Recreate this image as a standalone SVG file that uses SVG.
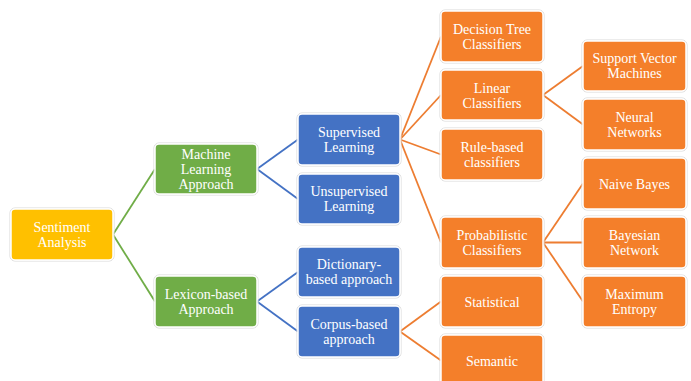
<svg xmlns="http://www.w3.org/2000/svg" width="691" height="381" viewBox="0 0 691 381">
<style>
.n rect{stroke:#ffffff;stroke-width:1.5;}
.n text{font-family:"Liberation Serif","Times New Roman",serif;font-size:14px;fill:#ffffff;text-anchor:middle;}
.y rect{fill:#FFC000;}
.g rect{fill:#70AD47;}
.b rect{fill:#4472C4;}
.o rect{fill:#F47F2A;}
.n rect.sh{fill:none;stroke:#d9d9d9;stroke-width:1;}
#connectors line{stroke-width:1.8;}
.lg{stroke:#70AD47;}
.lb{stroke:#4472C4;}
.lo{stroke:#ED7D31;}
</style>
<rect width="691" height="381" fill="#ffffff"/>
<g id="connectors">
<line class="lg" x1="113" y1="234.5" x2="155" y2="169"/>
<line class="lg" x1="113" y1="234.5" x2="155" y2="301.5"/>
<line class="lb" x1="257" y1="169" x2="298" y2="139.5"/>
<line class="lb" x1="257" y1="169" x2="298" y2="199"/>
<line class="lb" x1="257" y1="301.5" x2="298" y2="272"/>
<line class="lb" x1="257" y1="301.5" x2="298" y2="331.5"/>
<line class="lo" x1="400" y1="139.5" x2="441" y2="36.5"/>
<line class="lo" x1="400" y1="139.5" x2="441" y2="95"/>
<line class="lo" x1="400" y1="139.5" x2="441" y2="154.5"/>
<line class="lo" x1="400" y1="139.5" x2="441" y2="242.5"/>
<line class="lo" x1="543" y1="95" x2="583" y2="66"/>
<line class="lo" x1="543" y1="95" x2="583" y2="124.5"/>
<line class="lo" x1="543" y1="242.5" x2="583" y2="183.5"/>
<line class="lo" x1="543" y1="242.5" x2="583" y2="242.5"/>
<line class="lo" x1="543" y1="242.5" x2="583" y2="301.5"/>
<line class="lo" x1="400" y1="331.5" x2="441" y2="301.5"/>
<line class="lo" x1="400" y1="331.5" x2="441" y2="360.5"/>
</g>
<g id="sentiment" class="n y"><rect class="sh" x="10" y="208" width="104" height="53" rx="5"/><rect x="11" y="209" width="102" height="51" rx="4"/><text x="62" y="232">Sentiment</text><text x="62" y="247">Analysis</text></g>
<g id="ml" class="n g"><rect class="sh" x="154" y="143" width="104" height="52" rx="5"/><rect x="155" y="144" width="102" height="50" rx="4"/><text x="206" y="159">Machine</text><text x="206" y="174">Learning</text><text x="206" y="189">Approach</text></g>
<g id="lexicon" class="n g"><rect class="sh" x="154" y="275" width="104" height="53" rx="5"/><rect x="155" y="276" width="102" height="51" rx="4"/><text x="206" y="299">Lexicon-based</text><text x="206" y="314">Approach</text></g>
<g id="supervised" class="n b"><rect class="sh" x="297" y="113" width="104" height="53" rx="5"/><rect x="298" y="114" width="102" height="51" rx="4"/><text x="349" y="137">Supervised</text><text x="349" y="152">Learning</text></g>
<g id="unsupervised" class="n b"><rect class="sh" x="297" y="173" width="104" height="52" rx="5"/><rect x="298" y="174" width="102" height="50" rx="4"/><text x="349" y="196">Unsupervised</text><text x="349" y="211">Learning</text></g>
<g id="dictionary" class="n b"><rect class="sh" x="297" y="246" width="104" height="52" rx="5"/><rect x="298" y="247" width="102" height="50" rx="4"/><text x="349" y="269">Dictionary-</text><text x="349" y="284">based approach</text></g>
<g id="corpus" class="n b"><rect class="sh" x="297" y="305" width="104" height="53" rx="5"/><rect x="298" y="306" width="102" height="51" rx="4"/><text x="349" y="329">Corpus-based</text><text x="349" y="344">approach</text></g>
<g id="decision" class="n o"><rect class="sh" x="440" y="10" width="104" height="53" rx="5"/><rect x="441" y="11" width="102" height="51" rx="4"/><text x="492" y="34">Decision Tree</text><text x="492" y="49">Classifiers</text></g>
<g id="linear" class="n o"><rect class="sh" x="440" y="69" width="104" height="52" rx="5"/><rect x="441" y="70" width="102" height="50" rx="4"/><text x="492" y="92.5">Linear</text><text x="492" y="107.5">Classifiers</text></g>
<g id="rule" class="n o"><rect class="sh" x="440" y="128" width="104" height="53" rx="5"/><rect x="441" y="129" width="102" height="51" rx="4"/><text x="492" y="152">Rule-based</text><text x="492" y="167">classifiers</text></g>
<g id="probabilistic" class="n o"><rect class="sh" x="440" y="216" width="104" height="53" rx="5"/><rect x="441" y="217" width="102" height="51" rx="4"/><text x="492" y="240">Probabilistic</text><text x="492" y="255">Classifiers</text></g>
<g id="statistical" class="n o"><rect class="sh" x="440" y="275" width="104" height="53" rx="5"/><rect x="441" y="276" width="102" height="51" rx="4"/><text x="492" y="306.5">Statistical</text></g>
<g id="semantic" class="n o"><rect class="sh" x="440" y="334" width="104" height="53" rx="5"/><rect x="441" y="335" width="102" height="51" rx="4"/><text x="492" y="365.5">Semantic</text></g>
<g id="svm" class="n o"><rect class="sh" x="582" y="40" width="105" height="52" rx="5"/><rect x="583" y="41" width="103" height="50" rx="4"/><text x="634.5" y="63">Support Vector</text><text x="634.5" y="78">Machines</text></g>
<g id="neural" class="n o"><rect class="sh" x="582" y="98" width="105" height="53" rx="5"/><rect x="583" y="99" width="103" height="51" rx="4"/><text x="634.5" y="122">Neural</text><text x="634.5" y="137">Networks</text></g>
<g id="naive" class="n o"><rect class="sh" x="582" y="157" width="105" height="53" rx="5"/><rect x="583" y="158" width="103" height="51" rx="4"/><text x="634.5" y="188.5">Naive Bayes</text></g>
<g id="bayesian" class="n o"><rect class="sh" x="582" y="216" width="105" height="53" rx="5"/><rect x="583" y="217" width="103" height="51" rx="4"/><text x="634.5" y="240">Bayesian</text><text x="634.5" y="255">Network</text></g>
<g id="maxent" class="n o"><rect class="sh" x="582" y="275" width="105" height="53" rx="5"/><rect x="583" y="276" width="103" height="51" rx="4"/><text x="634.5" y="299">Maximum</text><text x="634.5" y="314">Entropy</text></g>
</svg>
